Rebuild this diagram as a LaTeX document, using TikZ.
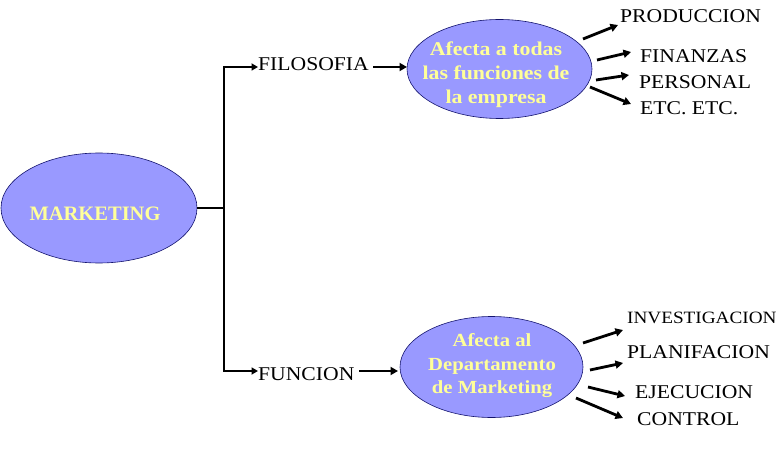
\documentclass[tikz,border=0pt]{standalone}
\usepackage{fontspec}
\setmainfont{Liberation Serif}
\newfontfamily\labfont{Liberation Serif}[FakeStretch=1.11]
\newfontfamily\yelfont{Liberation Serif}[FakeStretch=1.12]
\usetikzlibrary{shapes.geometric,arrows.meta}
\definecolor{elfill}{RGB}{153,153,255}
\definecolor{elline}{RGB}{20,20,110}
\definecolor{yeltext}{RGB}{255,255,153}
\tikzset{
  oval/.style={ellipse,draw=elline,line width=0.6pt,fill=elfill,inner sep=0pt},
  lab/.style={anchor=base west,inner sep=0pt,font=\labfont\fontsize{19.5}{21}\selectfont},
  labsmall/.style={anchor=base west,inner sep=0pt,font=\labfont\fontsize{17.3}{19}\selectfont},
  ytext/.style={text=yeltext,align=center,inner sep=0pt},
  arr/.style={line width=2.8pt,-{Triangle[length=7.5pt,width=8pt]}},
  barr/.style={line width=2.5pt,-{Triangle[length=6.5pt,width=7pt]}},
  bar/.style={line width=2pt},
}
\begin{document}
\begin{tikzpicture}[x=1pt,y=-1pt]
\useasboundingbox (0,0) rectangle (784,449);
% ellipses
\node[oval,minimum width=196pt,minimum height=110pt] (mk) at (99,208) {};
\node[text=yeltext,inner sep=0pt,anchor=base,font=\bfseries\fontsize{20.5}{22}\selectfont] (mkt) at (95,220) {MARKETING};
\node[oval,minimum width=185pt,minimum height=99pt] (e1) at (499.5,69) {};
\node[ytext,font=\yelfont\bfseries\fontsize{19.5}{24}\selectfont] (t1) at (496,75) {Afecta a todas\\las funciones de\\la empresa};
\node[oval,minimum width=183pt,minimum height=101pt] (e2) at (491.5,367) {};
\node[ytext,font=\yelfont\bfseries\fontsize{18.5}{23.5}\selectfont] (t2) at (492,366) {Afecta al\\Departamento\\de Marketing};
% labels
\node[lab] (fil) at (258,71) {FILOSOFIA};
\node[lab] (fun) at (258,380) {FUNCION};
\node[lab] (prod) at (620,23) {PRODUCCION};
\node[lab] (fin) at (640,63) {FINANZAS};
\node[lab] (per) at (639,89) {PERSONAL};
\node[lab] (etc) at (640,115) {ETC. ETC.};
\node[labsmall] (inv) at (627,323) {INVESTIGACION};
\node[lab] (pla) at (627,358) {PLANIFACION};
\node[lab] (eje) at (635,398) {EJECUCION};
\node[lab] (con) at (637,425) {CONTROL};
% bracket
\coordinate (j) at (224,208);
\coordinate (jt) at (224,67);
\coordinate (jb) at (224,371);
\draw[bar] (mk.east) -- (j);
\draw[bar] (jt) -- (jb);
\coordinate (filw) at (258,67);
\coordinate (funw) at (258,371);
\draw[barr] ([xshift=-1pt]jt) -- (filw);
\draw[barr] ([xshift=-1pt]jb) -- (funw);
% to ellipses
\coordinate (a1s) at (373,67); \coordinate (a1e) at (407,67);
\draw[arr] (a1s) -- (a1e);
\coordinate (a2s) at (359,371); \coordinate (a2e) at (398,371);
\draw[arr] (a2s) -- (a2e);
% top fan
\coordinate (p1s) at (583,39); \coordinate (p1e) at (618,25);
\coordinate (p2s) at (597,60); \coordinate (p2e) at (631,52);
\coordinate (p3s) at (596,80); \coordinate (p3e) at (629,75);
\coordinate (p4s) at (590,87); \coordinate (p4e) at (631,104);
\draw[arr] (p1s) -- (p1e);
\draw[arr] (p2s) -- (p2e);
\draw[arr] (p3s) -- (p3e);
\draw[arr] (p4s) -- (p4e);
% bottom fan
\coordinate (q1s) at (583,343); \coordinate (q1e) at (623,330);
\coordinate (q2s) at (590,370); \coordinate (q2e) at (623,363);
\coordinate (q3s) at (588,387); \coordinate (q3e) at (625,396);
\coordinate (q4s) at (576,398); \coordinate (q4e) at (623,418);
\draw[arr] (q1s) -- (q1e);
\draw[arr] (q2s) -- (q2e);
\draw[arr] (q3s) -- (q3e);
\draw[arr] (q4s) -- (q4e);
\end{tikzpicture}
\end{document}
